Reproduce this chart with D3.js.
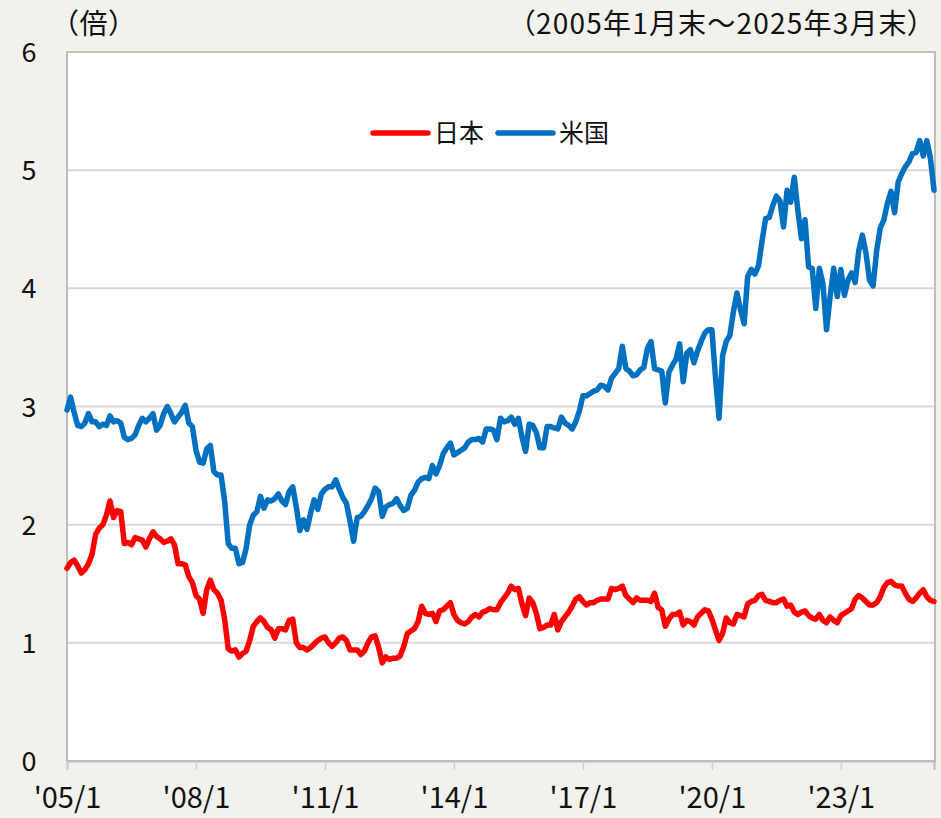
<!DOCTYPE html>
<html>
<head>
<meta charset="utf-8">
<script src="https://cdn.jsdelivr.net/npm/d3@7/dist/d3.min.js"></script>
<style>
  body { margin: 0; background: #f2f1ec; }
  svg { display: block; }
  text { font-family: "Noto Sans CJK JP", "Noto Sans", sans-serif; font-feature-settings: "palt"; fill: #111; }
</style>
</head>
<body>
<svg width="941" height="818"></svg>
<script>
// monthly values, 2005/1 .. 2025/3
var startYear = 2005;
var japan = [
  1.63,1.68,1.70,1.65,1.59,1.62,1.67,1.75,1.92,1.97,2.00,2.08, // 2005
  2.20,2.06,2.12,2.11,1.84,1.85,1.83,1.89,1.88,1.87,1.81,1.88, // 2006
  1.94,1.90,1.88,1.85,1.86,1.88,1.83,1.67,1.67,1.66,1.56,1.51, // 2007
  1.40,1.37,1.25,1.45,1.53,1.45,1.42,1.36,1.20,0.95,0.93,0.94, // 2008
  0.88,0.91,0.93,1.02,1.14,1.18,1.21,1.18,1.13,1.11,1.04,1.12, // 2009
  1.12,1.11,1.19,1.20,1.00,0.96,0.96,0.94,0.96,0.99,1.02,1.04, // 2010
  1.05,1.00,0.97,1.00,1.04,1.05,1.02,0.94,0.94,0.94,0.90,0.93, // 2011
  1.00,1.05,1.06,0.96,0.83,0.88,0.86,0.87,0.87,0.89,0.97,1.08, // 2012
  1.10,1.12,1.18,1.31,1.25,1.24,1.25,1.18,1.27,1.28,1.31,1.34, // 2013
  1.24,1.19,1.17,1.16,1.18,1.22,1.24,1.22,1.26,1.27,1.29,1.28, // 2014
  1.28,1.34,1.38,1.42,1.48,1.45,1.46,1.33,1.23,1.38,1.34,1.25, // 2015
  1.12,1.13,1.15,1.15,1.24,1.11,1.18,1.22,1.26,1.31,1.37,1.39, // 2016
  1.35,1.32,1.34,1.34,1.36,1.37,1.37,1.37,1.46,1.45,1.46,1.48, // 2017
  1.40,1.37,1.34,1.38,1.36,1.36,1.36,1.35,1.42,1.30,1.28,1.14, // 2018
  1.20,1.24,1.24,1.26,1.15,1.19,1.18,1.15,1.22,1.25,1.28,1.27, // 2019
  1.20,1.11,1.02,1.08,1.21,1.17,1.16,1.24,1.23,1.22,1.33,1.35, // 2020
  1.36,1.40,1.41,1.36,1.35,1.34,1.34,1.36,1.37,1.31,1.32,1.26, // 2021
  1.24,1.26,1.27,1.23,1.21,1.20,1.24,1.19,1.17,1.22,1.19,1.17, // 2022
  1.23,1.25,1.27,1.29,1.37,1.40,1.38,1.35,1.32,1.32,1.34,1.39, // 2023
  1.47,1.51,1.52,1.49,1.48,1.48,1.42,1.37,1.35,1.38,1.42,1.45, // 2024
  1.39,1.36,1.35                                                // 2025
];
var usa = [
  2.97,3.08,2.95,2.84,2.83,2.86,2.94,2.87,2.87,2.83,2.85,2.84, // 2005
  2.92,2.87,2.88,2.86,2.74,2.72,2.73,2.76,2.84,2.90,2.87,2.90, // 2006
  2.94,2.80,2.84,2.94,3.00,2.94,2.87,2.91,2.95,3.01,2.86,2.83, // 2007
  2.63,2.53,2.52,2.64,2.67,2.45,2.42,2.42,2.20,1.84,1.80,1.80, // 2008
  1.67,1.68,1.80,2.00,2.08,2.11,2.24,2.14,2.21,2.20,2.22,2.26, // 2009
  2.20,2.17,2.28,2.32,2.15,1.95,2.04,1.96,2.10,2.21,2.13,2.26, // 2010
  2.30,2.32,2.32,2.38,2.30,2.23,2.18,2.03,1.86,2.06,2.07,2.11, // 2011
  2.16,2.22,2.31,2.28,2.07,2.15,2.17,2.18,2.22,2.16,2.12,2.14, // 2012
  2.25,2.29,2.36,2.39,2.40,2.39,2.50,2.43,2.50,2.60,2.65,2.69, // 2013
  2.59,2.61,2.63,2.65,2.70,2.72,2.72,2.73,2.70,2.81,2.81,2.80, // 2014
  2.72,2.90,2.87,2.88,2.91,2.85,2.90,2.74,2.62,2.85,2.84,2.78, // 2015
  2.65,2.65,2.83,2.83,2.82,2.81,2.91,2.86,2.84,2.81,2.87,2.96, // 2016
  3.09,3.09,3.11,3.13,3.14,3.18,3.17,3.14,3.24,3.28,3.32,3.51, // 2017
  3.32,3.30,3.26,3.27,3.31,3.33,3.49,3.55,3.32,3.31,3.30,3.03, // 2018
  3.29,3.35,3.40,3.53,3.21,3.45,3.48,3.37,3.47,3.55,3.62,3.65, // 2019
  3.65,3.25,2.90,3.43,3.55,3.60,3.80,3.96,3.82,3.70,4.10,4.16, // 2020
  4.12,4.19,4.40,4.59,4.60,4.70,4.78,4.74,4.52,4.83,4.73,4.94, // 2021
  4.66,4.42,4.58,4.18,4.17,3.83,4.17,4.04,3.65,3.93,4.17,3.93, // 2022
  4.16,3.94,4.07,4.13,4.05,4.32,4.45,4.30,4.07,4.02,4.32,4.51, // 2023
  4.58,4.72,4.82,4.64,4.90,4.97,5.03,5.07,5.14,5.15,5.25,5.12, // 2024
  5.25,5.10,4.83                                                // 2025
];
var tickLabels = ["'05/1", "'08/1", "'11/1", "'14/1", "'17/1", "'20/1", "'23/1"];
var yTicks = [0, 1, 2, 3, 4, 5, 6];
var seriesNames = ["日本", "米国"];
var colors = ["#ff0000", "#0070c0"];

var margin = {left:67, right:6, top:52, bottom:57};
var width = 941, height = 818;

var svg = d3.select("svg");

var x = d3.scaleLinear().domain([0, japan.length - 1]).range([margin.left, width - margin.right - 1]);
var y = d3.scaleLinear().domain([0, 6]).range([height - margin.bottom, margin.top]);

// plot background
svg.append("rect")
  .attr("x", margin.left).attr("y", margin.top)
  .attr("width", width - margin.right - margin.left).attr("height", height - margin.bottom - margin.top)
  .attr("fill", "#fff");

// gridlines
svg.append("g").selectAll("line").data(yTicks.slice(1)).join("line")
  .attr("x1", margin.left).attr("x2", width - margin.right)
  .attr("y1", d => y(d)).attr("y2", d => y(d))
  .attr("stroke", "#d9d9d9").attr("stroke-width", 2);

// frame
svg.append("rect")
  .attr("x", margin.left).attr("y", margin.top)
  .attr("width", width - margin.right - margin.left).attr("height", height - margin.bottom - margin.top)
  .attr("fill", "none").attr("stroke", "#bdbdbd").attr("stroke-width", 2);

// y axis labels
svg.append("g").selectAll("text").data(yTicks).join("text")
  .attr("x", 29).attr("y", d => y(d) + 10)
  .attr("text-anchor", "middle")
  .style("font-size", "27px")
  .text(d => d);

// x axis
var tickIdx = tickLabels.map((d, i) => i * 36);
var xAxis = d3.axisBottom(x).tickValues(tickIdx).tickSize(9).tickFormat((d, i) => tickLabels[i]);
var gx = svg.append("g").attr("transform", "translate(0," + (height - margin.bottom) + ")").call(xAxis);
gx.select(".domain").attr("stroke", "#bdbdbd").attr("stroke-width", 2);
gx.selectAll(".tick line").attr("stroke", "#d0d0d0").attr("stroke-width", 1.5);
gx.selectAll(".tick text").attr("dy", 0).attr("y", 47)
  .style("font-size", "29px").style("font-family", null).attr("fill", "#111");

// lines
var line = d3.line().x((d, i) => x(i)).y(d => y(d)).curve(d3.curveLinear);
[japan, usa].forEach(function(s, k) {
  svg.append("path").datum(s)
    .attr("d", line)
    .attr("fill", "none")
    .attr("stroke", colors[k])
    .attr("stroke-width", 5.5)
    .attr("stroke-linejoin", "round")
    .attr("stroke-linecap", "round");
});

// legend
var legendX = [373, 498];
seriesNames.forEach(function(n, k) {
  svg.append("line")
    .attr("x1", legendX[k]).attr("x2", legendX[k] + 55)
    .attr("y1", 133).attr("y2", 133)
    .attr("stroke", colors[k]).attr("stroke-width", 5.5).attr("stroke-linecap", "round");
  svg.append("text")
    .attr("x", legendX[k] + 61).attr("y", 142)
    .style("font-size", "25px")
    .text(n);
});

// header notes
svg.append("text").attr("x", 64).attr("y", 34).style("font-size", "28px")
  .style("letter-spacing", "1.5px").text("（倍）");
svg.append("text").attr("x", 923).attr("y", 34).attr("text-anchor", "end").style("font-size", "28px")
  .style("letter-spacing", "1.2px").text("（2005年1月末～2025年3月末）");
</script>
</body>
</html>
